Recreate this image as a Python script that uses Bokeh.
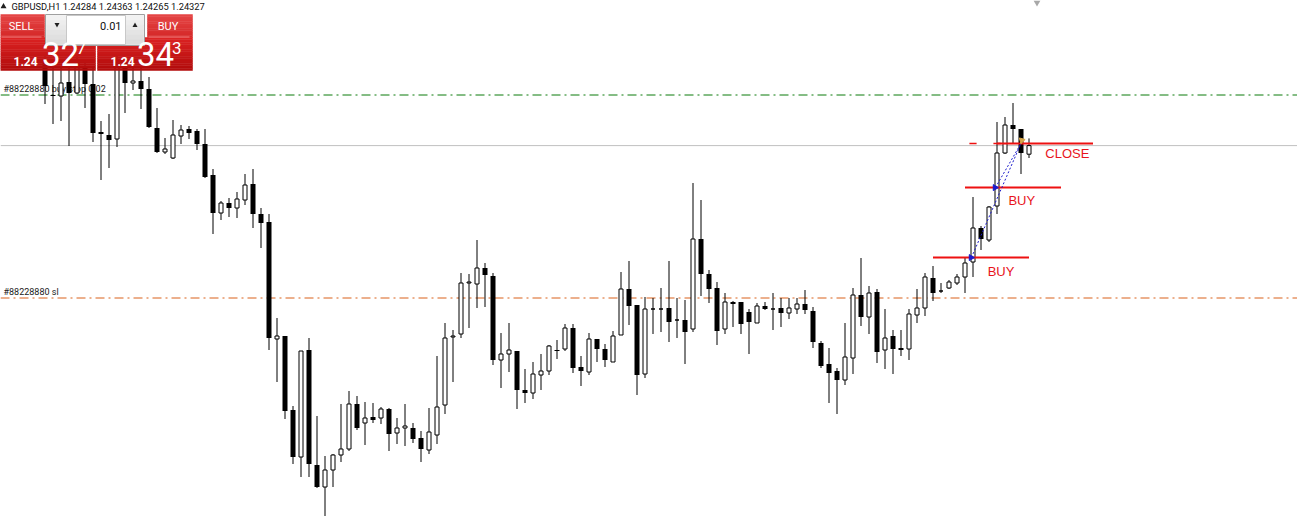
import numpy as np
from bokeh.plotting import figure
from bokeh.models import Range1d, Label, Span
from bokeh.embed import file_html
from bokeh.resources import INLINE
from bokeh.core.properties import value

# ---------------- data (GBPUSD H1, bars 5..128 visible) ----------------
symbol = "GBPUSD,H1"
first_bar = 5

open_ = [
    1.24740, 1.24580, 1.24575, 1.24645, 1.24590, 1.24720, 1.24635, 1.24395, 1.24380, 1.24360,
    1.24740, 1.24640, 1.24650, 1.24610, 1.24415, 1.24295, 1.24265, 1.24375, 1.24410, 1.24400,
    1.24335, 1.24180, 1.23990, 1.24040, 1.24015, 1.24055, 1.24135, 1.23985, 1.23945, 1.23360,
    1.23375, 1.23005, 1.22770, 1.23305, 1.22730, 1.22620, 1.22705, 1.22780, 1.22810, 1.23035,
    1.22940, 1.22970, 1.22965, 1.23010, 1.22890, 1.22915, 1.22915, 1.22865, 1.22805, 1.22880,
    1.23030, 1.23370, 1.23385, 1.23640, 1.23635, 1.23715, 1.23675, 1.23255, 1.23285, 1.23300,
    1.23105, 1.23090, 1.23180, 1.23200, 1.23305, 1.23310, 1.23415, 1.23220, 1.23195, 1.23360,
    1.23310, 1.23245, 1.23380, 1.23610, 1.23530, 1.23185, 1.23510, 1.23510, 1.23515, 1.23455,
    1.23455, 1.23410, 1.23860, 1.23685, 1.23615, 1.23410, 1.23545, 1.23545, 1.23495, 1.23440,
    1.23525, 1.23510, 1.23515, 1.23490, 1.23510, 1.23535, 1.23500, 1.23340, 1.23235, 1.23200,
    1.23155, 1.23265, 1.23580, 1.23470, 1.23595, 1.23305, 1.23375, 1.23315, 1.23310, 1.23480,
    1.23515, 1.23665, 1.23600, 1.23615, 1.23640, 1.23670, 1.23745, 1.23915, 1.23855, 1.24025,
    1.24290, 1.24430, 1.24410, 1.24284,
]
high = [
    1.24775, 1.24750, 1.24725, 1.24750, 1.24775, 1.24760, 1.24720, 1.24450, 1.24485, 1.24775,
    1.24770, 1.24725, 1.24720, 1.24670, 1.24515, 1.24365, 1.24455, 1.24430, 1.24425, 1.24410,
    1.24410, 1.24210, 1.24050, 1.24065, 1.24095, 1.24185, 1.24210, 1.24015, 1.23985, 1.23465,
    1.23375, 1.23025, 1.23300, 1.23365, 1.22975, 1.22775, 1.22785, 1.23035, 1.23100, 1.23075,
    1.23045, 1.23040, 1.23020, 1.23015, 1.22965, 1.23035, 1.22940, 1.22900, 1.23015, 1.23275,
    1.23440, 1.23405, 1.23690, 1.23685, 1.23855, 1.23740, 1.23690, 1.23390, 1.23440, 1.23300,
    1.23210, 1.23245, 1.23285, 1.23330, 1.23355, 1.23435, 1.23435, 1.23275, 1.23390, 1.23360,
    1.23335, 1.23400, 1.23695, 1.23750, 1.23530, 1.23570, 1.23565, 1.23615, 1.23750, 1.23565,
    1.23555, 1.24140, 1.24055, 1.23705, 1.23645, 1.23590, 1.23550, 1.23545, 1.23510, 1.23540,
    1.23545, 1.23590, 1.23565, 1.23565, 1.23565, 1.23605, 1.23520, 1.23350, 1.23315, 1.23215,
    1.23440, 1.23615, 1.23765, 1.23625, 1.23610, 1.23510, 1.23405, 1.23405, 1.23510, 1.23610,
    1.23690, 1.23725, 1.23640, 1.23655, 1.23685, 1.23765, 1.24070, 1.23925, 1.24025, 1.24445,
    1.24470, 1.24540, 1.24410, 1.24363,
]
low = [
    1.24535, 1.24435, 1.24450, 1.24325, 1.24585, 1.24515, 1.24345, 1.24155, 1.24215, 1.24320,
    1.24490, 1.24605, 1.24510, 1.24415, 1.24290, 1.24285, 1.24260, 1.24335, 1.24360, 1.24305,
    1.24165, 1.23885, 1.23955, 1.23970, 1.23965, 1.24030, 1.23915, 1.23815, 1.23305, 1.23145,
    1.22960, 1.22735, 1.22670, 1.22670, 1.22615, 1.22475, 1.22620, 1.22745, 1.22800, 1.22905,
    1.22830, 1.22940, 1.22935, 1.22800, 1.22835, 1.22825, 1.22840, 1.22745, 1.22785, 1.22835,
    1.22985, 1.23145, 1.23365, 1.23415, 1.23515, 1.23520, 1.23230, 1.23115, 1.23195, 1.23010,
    1.23040, 1.23060, 1.23105, 1.23180, 1.23260, 1.23300, 1.23190, 1.23125, 1.23180, 1.23245,
    1.23220, 1.23245, 1.23380, 1.23430, 1.23080, 1.23165, 1.23385, 1.23395, 1.23345, 1.23365,
    1.23235, 1.23395, 1.23575, 1.23540, 1.23330, 1.23385, 1.23420, 1.23385, 1.23285, 1.23440,
    1.23505, 1.23405, 1.23420, 1.23460, 1.23485, 1.23485, 1.23315, 1.23215, 1.23040, 1.22985,
    1.23130, 1.23185, 1.23425, 1.23385, 1.23240, 1.23210, 1.23185, 1.23275, 1.23255, 1.23440,
    1.23475, 1.23550, 1.23590, 1.23610, 1.23630, 1.23590, 1.23670, 1.23805, 1.23845, 1.23985,
    1.24285, 1.24335, 1.24185, 1.24265,
]
close = [
    1.24625, 1.24575, 1.24640, 1.24590, 1.24740, 1.24635, 1.24390, 1.24385, 1.24355, 1.24740,
    1.24640, 1.24650, 1.24610, 1.24420, 1.24295, 1.24310, 1.24380, 1.24405, 1.24390, 1.24335,
    1.24170, 1.23990, 1.24040, 1.24015, 1.24060, 1.24130, 1.23985, 1.23940, 1.23365, 1.23375,
    1.23000, 1.22770, 1.23300, 1.22735, 1.22620, 1.22705, 1.22780, 1.22810, 1.23035, 1.22915,
    1.22965, 1.22955, 1.23010, 1.22885, 1.22915, 1.22925, 1.22860, 1.22810, 1.22895, 1.23020,
    1.23365, 1.23375, 1.23640, 1.23645, 1.23715, 1.23680, 1.23255, 1.23285, 1.23305, 1.23105,
    1.23090, 1.23185, 1.23200, 1.23325, 1.23300, 1.23415, 1.23215, 1.23200, 1.23360, 1.23310,
    1.23255, 1.23375, 1.23610, 1.23525, 1.23180, 1.23510, 1.23510, 1.23510, 1.23445, 1.23455,
    1.23395, 1.23860, 1.23685, 1.23610, 1.23400, 1.23545, 1.23535, 1.23435, 1.23445, 1.23525,
    1.23510, 1.23510, 1.23490, 1.23515, 1.23535, 1.23505, 1.23345, 1.23225, 1.23190, 1.23155,
    1.23270, 1.23580, 1.23470, 1.23590, 1.23295, 1.23365, 1.23310, 1.23305, 1.23485, 1.23515,
    1.23670, 1.23590, 1.23600, 1.23645, 1.23670, 1.23740, 1.23915, 1.23860, 1.24020, 1.24290,
    1.24430, 1.24410, 1.24290, 1.24327,
]

bid = close[-1]
ask = 1.24343
lot = 0.01
ticket = "#88228880"
order_price = 1.24580          # pending order line (green)
order_text = ticket + " buy stop 0.02"
sl_price = 1.23565             # stop loss line (orange)
sl_text = ticket + " sl"

entry_bars = [121, 124]
entry_prices = [1.23767, 1.24117]
exit_bar = 127
exit_price = 1.24338
level_prices = [1.23767, 1.24117, 1.24338]
level_spans = [(116, 128), (120, 132), (124, 136)]
level_texts = ["BUY", "BUY", "CLOSE"]
level_text_bars = [124.5, 127.1, 132.8]

# ---------------- geometry ----------------
W, H = 1297, 521
PX_PER_BAR = 8.0
X0 = -0.5625
PRICE_TOP = 1.250525
PRICE_PER_PX = 0.00005


def sx(px):
    return X0 + px / PX_PER_BAR


def sy(py):
    return PRICE_TOP - py * PRICE_PER_PX


p = figure(width=W, height=H,
           x_range=Range1d(X0, X0 + W / PX_PER_BAR),
           y_range=Range1d(PRICE_TOP - H * PRICE_PER_PX, PRICE_TOP),
           output_backend="svg", toolbar_location=None,
           x_axis_type=None, y_axis_type=None, min_border=0,
           outline_line_color=None, background_fill_color="white",
           border_fill_color="white")

# horizontal lines (under the candles)
p.add_layout(Span(location=bid, dimension="width", line_color="#c0c0c0",
                  line_width=1, level="underlay"))
p.add_layout(Span(location=order_price, dimension="width", line_color="#0a7a0a",
                  line_width=1, line_dash="9 4 2 4", level="underlay"))
p.add_layout(Span(location=sl_price, dimension="width", line_color="#d9601a",
                  line_width=1, line_dash="9 4 2 4", level="underlay"))

p.text(x=[sx(3), sx(3)], y=[sy(88.6), sy(291.7)],
       text=[order_text, sl_text], text_font=value("Roboto"),
       text_font_size=value("9px"), text_color="#202020",
       text_baseline="middle", text_align="left")

# candles
bars = np.arange(first_bar, first_bar + len(close))
o = np.array(open_)
c = np.array(close)
hi = np.array(high)
lo = np.array(low)
bull = c >= o

p.segment(x0=bars, y0=lo, x1=bars, y1=hi, line_color="black", line_width=1)
p.vbar(x=bars[~bull], width=5 / PX_PER_BAR, top=o[~bull], bottom=c[~bull],
       fill_color="black", line_color=None)
p.vbar(x=bars[bull], width=4 / PX_PER_BAR, top=c[bull], bottom=o[bull],
       fill_color="white", line_color="black", line_width=1)

# trade levels
RED = "#ee1111"
for (b0, b1), lvl in zip(level_spans, level_prices):
    p.segment(x0=[b0], y0=[lvl], x1=[b1], y1=[lvl], line_color=RED, line_width=2)
for b in entry_bars:
    p.segment(x0=[b - 0.45], y0=[exit_price], x1=[b + 0.45], y1=[exit_price],
              line_color=RED, line_width=1.5)
for b, pr in zip(entry_bars, entry_prices):
    p.segment(x0=[b - 0.2], y0=[pr], x1=[exit_bar], y1=[exit_price],
              line_color="#1a1acc", line_width=1, line_dash="2 2")
p.scatter(x=[b - 0.25 for b in entry_bars], y=entry_prices, marker="triangle",
          angle=-np.pi / 2, size=6, fill_color="#1a1acc", line_color="#1a1acc")
p.scatter(x=[exit_bar + 0.1], y=[exit_price + 3 * PRICE_PER_PX], marker="triangle",
          angle=np.pi / 4, size=6, fill_color="#d8a84a", line_color="#d8a84a")
text_off = [14, 12.5, 10]
for t, b, lvl, off in zip(level_texts, level_text_bars, level_prices, text_off):
    p.add_layout(Label(x=b, y=lvl - off * PRICE_PER_PX, text=t, text_font="Liberation Sans",
                       text_font_size="13px", text_color="#e8141c",
                       text_align="center", text_baseline="middle"))

# chart shift marker
p.scatter(x=[sx(1036.5)], y=[sy(2)], marker="inverted_triangle", size=7,
          fill_color="#a8a8a8", line_color=None)


# ---------------- one-click trading panel ----------------
def hex2rgb(h):
    return tuple(int(h[i:i + 2], 16) for i in (1, 3, 5))


def grad_box(x0, x1, y0, y1, ctop, cbot, n=10):
    a, b = np.array(hex2rgb(ctop)), np.array(hex2rgb(cbot))
    step = (y1 - y0) / n
    cols, tops, bots = [], [], []
    for k in range(n):
        t = k / (n - 1)
        rgb = (a * (1 - t) + b * t).astype(int)
        cols.append("#%02x%02x%02x" % tuple(rgb))
        tops.append(sy(y0 + k * step))
        bots.append(sy(y0 + (k + 1) * step))
    p.quad(left=[sx(x0)] * n, right=[sx(x1)] * n, top=tops, bottom=bots,
           fill_color=cols, line_color=cols, line_width=0.5)


# SELL / BUY buttons
grad_box(0, 44, 14, 37, "#e54545", "#d62a2a")
grad_box(147, 192, 14, 37, "#e54545", "#d62a2a")
# big price boxes
grad_box(0, 95, 37, 70, "#dc2323", "#b30d0d", 14)
grad_box(97, 192, 37, 70, "#dc2323", "#b30d0d", 14)
p.segment(x0=[sx(1), sx(148)], y0=[sy(36.5)] * 2, x1=[sx(41), sx(189)], y1=[sy(36.5)] * 2,
          line_color="#f07a7a", line_width=1)
# lot box
p.quad(left=[sx(45)], right=[sx(144)], top=[sy(14)], bottom=[sy(45)],
       fill_color="#f4f4f4", line_color="#a0a0a0", line_width=1)
grad_box(46, 66, 15, 44, "#f2f2f2", "#dcdcdc", 6)
grad_box(125, 143, 15, 44, "#f2f2f2", "#dcdcdc", 6)
p.quad(left=[sx(66)], right=[sx(125)], top=[sy(15)], bottom=[sy(44)],
       fill_color="white", line_color="#c8c8c8", line_width=1)
p.scatter(x=[sx(56.5)], y=[sy(24)], marker="inverted_triangle", size=5,
          fill_color="#202020", line_color=None)
p.scatter(x=[sx(134.5)], y=[sy(25)], marker="triangle", size=5,
          fill_color="#202020", line_color=None)


def lab(px, py, text, size, color="white", align="left", style="normal", font="Roboto"):
    p.add_layout(Label(x=sx(px), y=sy(py), text=text, text_font=font,
                       text_font_size=size, text_color=color, text_align=align,
                       text_baseline="middle", text_font_style=style))


lab(20.5, 25.8, "SELL", "11px", align="center")
lab(167.5, 25.8, "BUY", "11px", align="center")
lab(121, 25, f"{lot:.2f}", "11px", color="#101010", align="right")

bid_s, ask_s = f"{bid:.5f}", f"{ask:.5f}"
lab(13, 60.8, bid_s[:4], "12px", style="bold")
lab(41.5, 53, bid_s[4:6], "33px")
lab(76, 47.8, bid_s[6], "17px")
lab(110, 60.8, ask_s[:4], "12px", style="bold")
lab(136.5, 53, ask_s[4:6], "33px")
lab(171.5, 47.8, ask_s[6], "17px")

# header
p.scatter(x=[sx(3)], y=[sy(6)], marker="triangle", size=6,
          fill_color="#202020", line_color=None)
lab(11, 6.2, f"{symbol}  {open_[-1]:.5f} {high[-1]:.5f} {low[-1]:.5f} {close[-1]:.5f}",
    "9.3px", color="#101010")

open("out.html", "w").write(file_html(p, INLINE))
